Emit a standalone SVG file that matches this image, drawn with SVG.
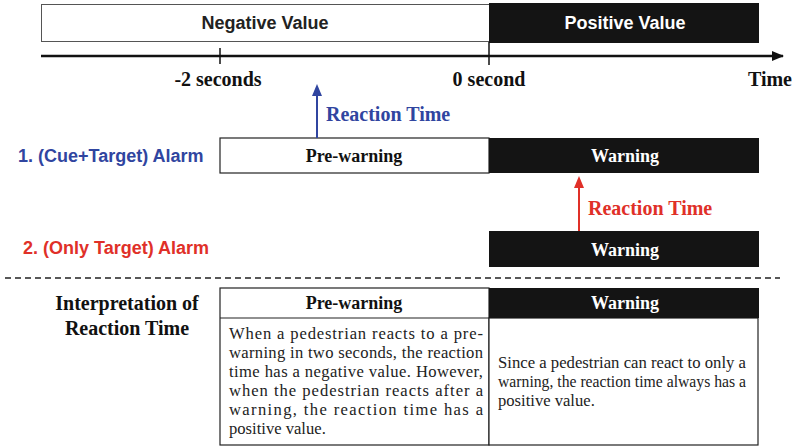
<svg xmlns="http://www.w3.org/2000/svg" width="795" height="448" viewBox="0 0 795 448">
<style>
.sans{font-family:"Liberation Sans",Arial,sans-serif;font-weight:bold}
.serif{font-family:"Liberation Serif","Times New Roman",serif}
.b{font-weight:bold}
.blk{fill:#141414}
.wbox{fill:#fff;stroke:#222;stroke-width:1.2}
.body{font-family:"Liberation Serif","Times New Roman",serif;font-size:16.6px;fill:#222}
</style>
<defs>
<marker id="ab" markerWidth="10" markerHeight="12" refX="5" refY="10" markerUnits="userSpaceOnUse" viewBox="0 0 10 12"><path d="M0,12 L5,0 L10,12 Z" fill="#3045a0"/></marker>
<marker id="ar" markerWidth="10" markerHeight="12" refX="5" refY="10" markerUnits="userSpaceOnUse" viewBox="0 0 10 12"><path d="M0,12 L5,0 L10,12 Z" fill="#e03028"/></marker>
<marker id="ak" markerWidth="12" markerHeight="10" refX="11" refY="5" markerUnits="userSpaceOnUse" viewBox="0 0 12 10"><path d="M0,0 L12,5 L0,10 Z" fill="#111"/></marker>
</defs>
<g id="top-bar">
<rect x="41.5" y="4.5" width="448" height="37" fill="#fff" stroke="#555" stroke-width="1"/>
<text class="sans" x="265" y="29" font-size="18" text-anchor="middle" fill="#222">Negative Value</text>
<rect class="blk" x="489" y="3" width="270" height="40"/>
<text class="sans" x="625" y="29" font-size="18" text-anchor="middle" fill="#fff">Positive Value</text>
</g>
<g id="axis">
<line x1="41" y1="56" x2="783" y2="56" stroke="#111" stroke-width="2.5" marker-end="url(#ak)"/>
<line x1="220" y1="48" x2="220" y2="64" stroke="#111" stroke-width="1.5"/>
<line x1="489" y1="42" x2="489" y2="65" stroke="#111" stroke-width="1.5"/>
<text class="serif b" x="218" y="86" font-size="20" text-anchor="middle" fill="#111">-2 seconds</text>
<text class="serif b" x="489" y="86" font-size="20" text-anchor="middle" fill="#111">0 second</text>
<text class="serif b" x="792" y="86" font-size="20" text-anchor="end" fill="#111">Time</text>
</g>
<g id="alarm1">
<text class="sans" x="18" y="162" font-size="18" fill="#3045a0">1. (Cue+Target) Alarm</text>
<rect class="wbox" x="220" y="138" width="269" height="35"/>
<text class="serif b" x="354" y="162" font-size="18" text-anchor="middle" fill="#111">Pre-warning</text>
<rect class="blk" x="489" y="138" width="270" height="35"/>
<text class="serif b" x="625" y="162" font-size="18" text-anchor="middle" fill="#fff">Warning</text>
</g>
<g id="alarm2">
<text class="sans" x="23" y="254" font-size="18" fill="#e03028">2. (Only Target) Alarm</text>
<rect class="blk" x="489" y="231" width="270" height="36"/>
<text class="serif b" x="625" y="256" font-size="18" text-anchor="middle" fill="#fff">Warning</text>
</g>
<g id="connectors">
<line x1="317" y1="138" x2="317" y2="94" stroke="#3045a0" stroke-width="2" marker-end="url(#ab)"/>
<line x1="579" y1="231" x2="579" y2="186" stroke="#e03028" stroke-width="2" marker-end="url(#ar)"/>
<line x1="5" y1="278" x2="780" y2="278" stroke="#222" stroke-width="1.5" stroke-dasharray="6,4"/>
</g>
<text class="serif b" x="326" y="121" font-size="20" fill="#3045a0">Reaction Time</text>
<text class="serif b" x="588" y="215" font-size="20" fill="#e03028">Reaction Time</text>
<g id="interpretation">
<text class="serif b" x="127" y="310" font-size="20" text-anchor="middle" fill="#111">Interpretation of</text>
<text class="serif b" x="127" y="335" font-size="20" text-anchor="middle" fill="#111">Reaction Time</text>
<rect class="wbox" x="220" y="288" width="269" height="157"/>
<rect class="wbox" x="489" y="318" width="269" height="127"/>
<line x1="220" y1="318" x2="489" y2="318" stroke="#222" stroke-width="1.2"/>
<rect class="blk" x="489" y="288" width="270" height="30"/>
<text class="serif b" x="354" y="309" font-size="18" text-anchor="middle" fill="#111">Pre-warning</text>
<text class="serif b" x="625" y="309" font-size="18" text-anchor="middle" fill="#fff">Warning</text>
<text class="body" x="229" y="339" textLength="254" lengthAdjust="spacing">When a pedestrian reacts to a pre-</text>
<text class="body" x="229" y="358" textLength="254" lengthAdjust="spacing">warning in two seconds, the reaction</text>
<text class="body" x="229" y="377" textLength="254" lengthAdjust="spacing">time has a negative value. However,</text>
<text class="body" x="229" y="396" textLength="254" lengthAdjust="spacing">when the pedestrian reacts after a</text>
<text class="body" x="229" y="415" textLength="254" lengthAdjust="spacing">warning, the reaction time has a</text>
<text class="body" x="229" y="434">positive value.</text>
<text class="body" x="498" y="368" textLength="248" lengthAdjust="spacingAndGlyphs">Since a pedestrian can react to only a</text>
<text class="body" x="498" y="387" textLength="248" lengthAdjust="spacingAndGlyphs">warning, the reaction time always has a</text>
<text class="body" x="498" y="406">positive value.</text>
</g>
</svg>
